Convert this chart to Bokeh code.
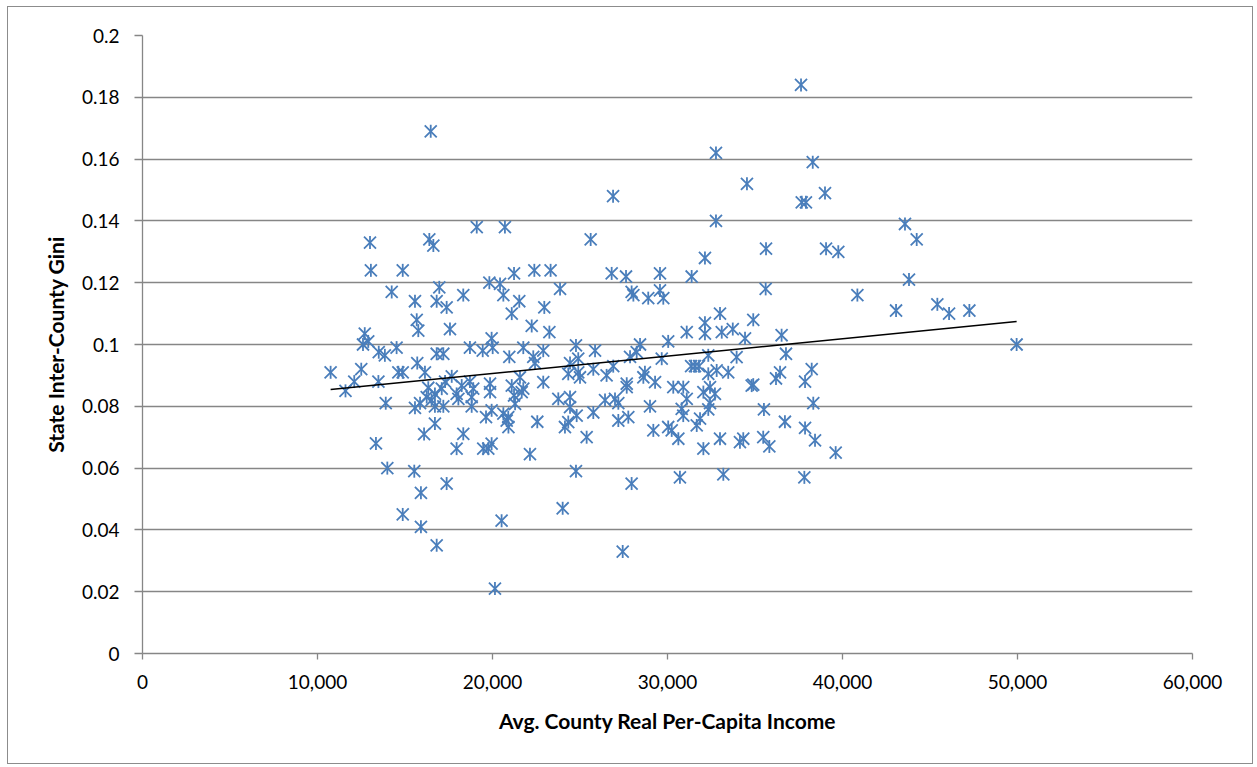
import numpy as np
from bokeh.plotting import figure
from bokeh.models import FixedTicker, Range1d, ColumnDataSource
from bokeh.embed import file_html
from bokeh.resources import INLINE

income = [
    10750, 11600, 12100, 12500, 12700, 12900, 12600, 13000, 13050, 13500,
    13850, 13480, 13900, 13340, 13990, 14240, 14520, 14620, 14870, 14870,
    14870, 15530, 15570, 15670, 15760, 15700, 15570, 15860, 15910, 15910,
    16090, 16140, 16240, 16330, 16390, 16470, 16520, 16620, 16710, 16710,
    16710, 16810, 16810, 16810, 16960, 17100, 17190, 17190, 17290, 17380,
    17380, 17570, 17670, 17950, 17950, 18050, 18240, 18330, 18330, 18710,
    18710, 18810, 18810, 18900, 19100, 19440, 19470, 19630, 19760, 19820,
    19860, 19860, 19950, 19950, 19950, 20010, 20140, 20430, 20520, 20620,
    20620, 20710, 20810, 20900, 20910, 20960, 21100, 21100, 21230, 21230,
    21290, 21530, 21570, 21670, 21760, 21760, 22140, 22240, 22330, 22390,
    22430, 22560, 22900, 22900, 22960, 23250, 23320, 23760, 23860, 24010,
    24140, 24330, 24330, 24430, 24430, 24430, 24770, 24770, 24810, 24900,
    24900, 25000, 25380, 25610, 25760, 25760, 25860, 26430, 26520, 26810,
    26890, 26900, 27000, 27190, 27190, 27440, 27630, 27670, 27670, 27760,
    27860, 27950, 27950, 28050, 28240, 28430, 28620, 28710, 28900, 29000,
    29190, 29290, 29570, 29570, 29670, 29760, 30040, 30040, 30240, 30330,
    30620, 30710, 30810, 30900, 30900, 31100, 31100, 31380, 31350, 31570,
    31800, 31670, 31860, 32050, 32050, 32140, 32140, 32140, 32330, 32330,
    32330, 32430, 32430, 32710, 32770, 32770, 32810, 33000, 33000, 33100,
    33190, 33470, 33730, 33950, 34140, 34330, 34430, 34540, 34810, 34900,
    34900, 35470, 35510, 35610, 35630, 35820, 36200, 36430, 36520, 36710,
    36770, 37630, 37670, 37860, 37860, 37820, 37910, 38240, 38300, 38330,
    38430, 39000, 39060, 39610, 39760, 40850, 43060, 43570, 43800, 44240,
    45420, 46090, 47250, 49950,
]

gini = [
    0.091, 0.085, 0.088, 0.092, 0.1035, 0.101, 0.100, 0.133, 0.124, 0.0975,
    0.0965, 0.088, 0.081, 0.068, 0.060, 0.117, 0.099, 0.091, 0.091, 0.124,
    0.045, 0.059, 0.114, 0.108, 0.1045, 0.094, 0.0795, 0.081, 0.052, 0.041,
    0.071, 0.091, 0.083, 0.086, 0.134, 0.169, 0.082, 0.132, 0.084, 0.080,
    0.0744, 0.114, 0.097, 0.035, 0.1185, 0.0857, 0.097, 0.080, 0.088, 0.112,
    0.055, 0.105, 0.0897, 0.084, 0.0663, 0.0824, 0.0867, 0.116, 0.0711, 0.099,
    0.088, 0.083, 0.080, 0.0857, 0.138, 0.098, 0.0663, 0.0765, 0.0663, 0.120,
    0.0873, 0.0846, 0.102, 0.0787, 0.0679, 0.099, 0.021, 0.1196, 0.043, 0.116,
    0.0776, 0.138, 0.0754, 0.0765, 0.0733, 0.096, 0.110, 0.0867, 0.123, 0.0835,
    0.0808, 0.114, 0.0894, 0.0846, 0.099, 0.0857, 0.0645, 0.106, 0.096, 0.124,
    0.094, 0.075, 0.098, 0.0878, 0.112, 0.104, 0.124, 0.0824, 0.118, 0.047,
    0.0733, 0.0905, 0.0749, 0.094, 0.083, 0.0797, 0.0997, 0.059, 0.077, 0.0954,
    0.091, 0.0894, 0.070, 0.134, 0.092, 0.078, 0.098, 0.082, 0.090, 0.123,
    0.148, 0.093, 0.0824, 0.081, 0.0754, 0.033, 0.122, 0.0873, 0.0862, 0.0765,
    0.096, 0.117, 0.055, 0.116, 0.0975, 0.100, 0.0894, 0.091, 0.115, 0.080,
    0.0722, 0.0878, 0.123, 0.1175, 0.0954, 0.115, 0.101, 0.0733, 0.0722, 0.0862,
    0.0695, 0.057, 0.0792, 0.0862, 0.077, 0.104, 0.0824, 0.122, 0.093, 0.093,
    0.093, 0.0738, 0.076, 0.0846, 0.0663, 0.128, 0.107, 0.1035, 0.0965, 0.0905,
    0.079, 0.0862, 0.081, 0.084, 0.162, 0.140, 0.0916, 0.110, 0.0695, 0.104,
    0.058, 0.091, 0.105, 0.0959, 0.0684, 0.0695, 0.102, 0.152, 0.0867, 0.108,
    0.087, 0.070, 0.079, 0.118, 0.131, 0.067, 0.089, 0.091, 0.103, 0.075,
    0.097, 0.184, 0.146, 0.088, 0.073, 0.057, 0.146, 0.092, 0.159, 0.081,
    0.069, 0.149, 0.131, 0.065, 0.130, 0.116, 0.111, 0.139, 0.121, 0.134,
    0.113, 0.110, 0.111, 0.100,
]

x_ticks = [0, 10000, 20000, 30000, 40000, 50000, 60000]
x_tick_labels = ["0", "10,000", "20,000", "30,000", "40,000", "50,000", "60,000"]
y_ticks = [0, 0.02, 0.04, 0.06, 0.08, 0.1, 0.12, 0.14, 0.16, 0.18, 0.2]
y_tick_labels = ["0", "0.02", "0.04", "0.06", "0.08", "0.1", "0.12", "0.14", "0.16", "0.18", "0.2"]

FONT = "Lato"
GRID = "#868686"
BLUE = "#4A7EBB"

p = figure(width=1246, height=758, output_backend="svg", toolbar_location=None,
           x_range=Range1d(0, 60000), y_range=Range1d(0, 0.2),
           min_border_left=134, min_border_right=62, min_border_top=28, min_border_bottom=112)
p.styles = {"border": "1px solid #8c8c8c", "margin-left": "7px", "margin-top": "6px"}
p.outline_line_color = None
p.background_fill_color = "white"
p.border_fill_color = "white"

p.xgrid.visible = False
p.ygrid.ticker = FixedTicker(ticks=y_ticks)
p.ygrid.grid_line_color = GRID
p.ygrid.grid_line_width = 1.3

p.xaxis.ticker = FixedTicker(ticks=x_ticks)
p.xaxis.major_label_overrides = {t: l for t, l in zip(x_ticks, x_tick_labels)}
p.yaxis.ticker = FixedTicker(ticks=y_ticks)
p.yaxis.major_label_overrides = {t: l for t, l in zip(y_ticks, y_tick_labels)}

for ax in (p.xaxis, p.yaxis):
    ax.axis_line_color = GRID
    ax.axis_line_width = 1.3
    ax.major_tick_line_color = GRID
    ax.major_tick_line_width = 1.3
    ax.minor_tick_line_color = None
    ax.major_tick_in = 0
    ax.major_label_text_font = FONT
    ax.major_label_text_font_size = "19px"
    ax.major_label_text_color = "#000000"
    ax.axis_label_text_font = FONT
    ax.axis_label_text_font_size = "21px"
    ax.axis_label_text_font_style = "bold"
    ax.axis_label_text_color = "#000000"

p.xaxis.major_tick_out = 6
p.yaxis.major_tick_out = 8
p.xaxis.major_label_standoff = 15
p.yaxis.major_label_standoff = 15
p.xaxis.axis_label = "Avg. County Real Per-Capita Income"
p.yaxis.axis_label = "State Inter-County Gini"
p.xaxis.axis_label_standoff = 16
p.yaxis.axis_label_standoff = 11

src = ColumnDataSource(data=dict(x=income, y=gini))
# Excel-style six-armed star: an X plus a vertical stroke
p.scatter("x", "y", source=src, marker="x", size=17, line_color=BLUE, line_width=1.8)
p.scatter("x", "y", source=src, marker="dash", angle=np.pi / 2, size=13,
          line_color=BLUE, line_width=1.8)

slope, intercept = np.polyfit(np.array(income, dtype=float), np.array(gini), 1)
tx = np.array([min(income), max(income)], dtype=float)
p.line(tx, slope * tx + intercept, line_color="black", line_width=1.5)

open("out.html", "w").write(file_html(p, INLINE))
